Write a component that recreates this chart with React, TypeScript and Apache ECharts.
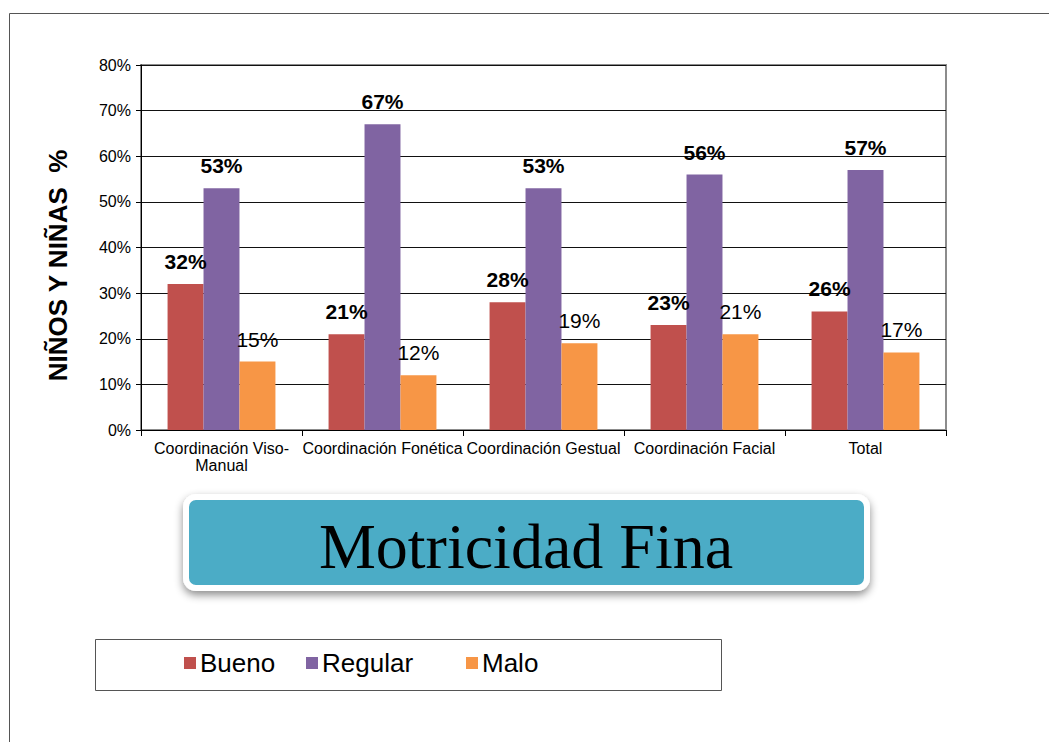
import React, { useEffect, useRef } from "react";
import * as echarts from "echarts";

const categories = [
  "Coordinación Viso-\nManual",
  "Coordinación Fonética",
  "Coordinación Gestual",
  "Coordinación Facial",
  "Total",
];
const bueno = [32, 21, 28, 23, 26];
const regular = [53, 67, 53, 56, 57];
const malo = [15, 12, 19, 21, 17];
const seriesNames = ["Bueno", "Regular", "Malo"];
const yTicks = { min: 0, max: 80, interval: 10 };
const chartTitle = "Motricidad Fina";
const yAxisName = "NIÑOS Y NIÑAS  %";

const FONT = "Liberation Sans, Arial, sans-serif";

export default function App() {
  const ref = useRef<HTMLDivElement>(null);
  useEffect(() => {
    if (!ref.current) return;
    const chart = echarts.init(ref.current, undefined, { renderer: "svg" });
    const labelBold = {
      show: true,
      position: "top",
      distance: 12,
      formatter: "{c}%",
      fontFamily: FONT,
      fontSize: 21,
      fontWeight: "bold",
      color: "#000",
    };
    const labelNormal = { ...labelBold, fontWeight: "normal" };
    const legendCommon = {
      top: 650,
      padding: 0,
      itemWidth: 12,
      itemHeight: 12,
      itemGap: 0,
      icon: "rect",
      textStyle: { fontFamily: FONT, fontSize: 26, color: "#000", padding: [0, 0, 0, -1] },
    };
    chart.setOption({
      animation: false,
      backgroundColor: "#fff",
      grid: {
        left: 141,
        top: 65,
        right: 103,
        bottom: 312,
        show: true,
        borderColor: "#8c8c8c",
        borderWidth: 2,
      },
      xAxis: {
        type: "category",
        data: categories,
        axisLine: { lineStyle: { color: "#000", width: 1 } },
        axisTick: { show: true, length: 6, lineStyle: { color: "#000" } },
        axisLabel: {
          interval: 0,
          fontFamily: FONT,
          fontSize: 16,
          color: "#000",
          margin: 10,
          lineHeight: 17,
        },
      },
      yAxis: {
        type: "value",
        min: yTicks.min,
        max: yTicks.max,
        interval: yTicks.interval,
        name: yAxisName,
        nameLocation: "middle",
        nameGap: 70,
        nameRotate: 90,
        nameTextStyle: {
          fontFamily: FONT,
          fontSize: 26,
          fontWeight: "bold",
          color: "#000",
          padding: [0, 36, 0, 0],
        },
        axisLine: { show: true, lineStyle: { color: "#000" } },
        axisTick: { show: true, length: 5, inside: false, lineStyle: { color: "#000" } },
        axisLabel: {
          formatter: "{value}%",
          fontFamily: FONT,
          fontSize: 16,
          color: "#000",
          margin: 10,
        },
        splitLine: { show: true, lineStyle: { color: "#111", width: 1 } },
      },
      legend: [
        { ...legendCommon, left: 184, data: [seriesNames[0]] },
        { ...legendCommon, left: 306, data: [seriesNames[1]] },
        { ...legendCommon, left: 466, data: [seriesNames[2]] },
      ],
      series: [
        {
          name: seriesNames[0],
          type: "bar",
          data: bueno,
          barGap: "0%",
          barCategoryGap: "33%",
          itemStyle: { color: "#C0504D" },
          label: labelBold,
        },
        {
          name: seriesNames[1],
          type: "bar",
          data: regular,
          barGap: "0%",
          barCategoryGap: "33%",
          itemStyle: { color: "#8064A2" },
          label: labelBold,
        },
        {
          name: seriesNames[2],
          type: "bar",
          data: malo,
          barGap: "0%",
          barCategoryGap: "33%",
          itemStyle: { color: "#F79646" },
          label: labelNormal,
        },
      ],
      graphic: [
        {
          type: "line",
          shape: { x1: 9.5, y1: 13.5, x2: 1049, y2: 13.5 },
          style: { stroke: "#555", lineWidth: 1 },
          silent: true,
        },
        {
          type: "line",
          shape: { x1: 9.5, y1: 13.5, x2: 9.5, y2: 742 },
          style: { stroke: "#555", lineWidth: 1 },
          silent: true,
        },
        {
          type: "rect",
          shape: { x: 186, y: 497, width: 681, height: 91, r: 10 },
          style: {
            fill: "#4BACC6",
            stroke: "#fff",
            lineWidth: 6,
            shadowBlur: 8,
            shadowOffsetX: 0,
            shadowOffsetY: 4,
            shadowColor: "rgba(0,0,0,0.45)",
          },
          z: 10,
        },
        {
          type: "text",
          x: 526,
          y: 546,
          style: {
            text: chartTitle,
            font: "64px 'Liberation Serif', 'Times New Roman', serif",
            fill: "#000",
            align: "center",
            verticalAlign: "middle",
          },
          z: 11,
        },
        {
          type: "rect",
          shape: { x: 95.5, y: 639.5, width: 626, height: 51 },
          style: { fill: "none", stroke: "#555", lineWidth: 1 },
          z: 0,
        },
      ],
    });
    return () => chart.dispose();
  }, []);
  return (
    <div
      ref={ref}
      style={{ position: "absolute", left: 0, top: 0, width: 1049, height: 742 }}
    />
  );
}
